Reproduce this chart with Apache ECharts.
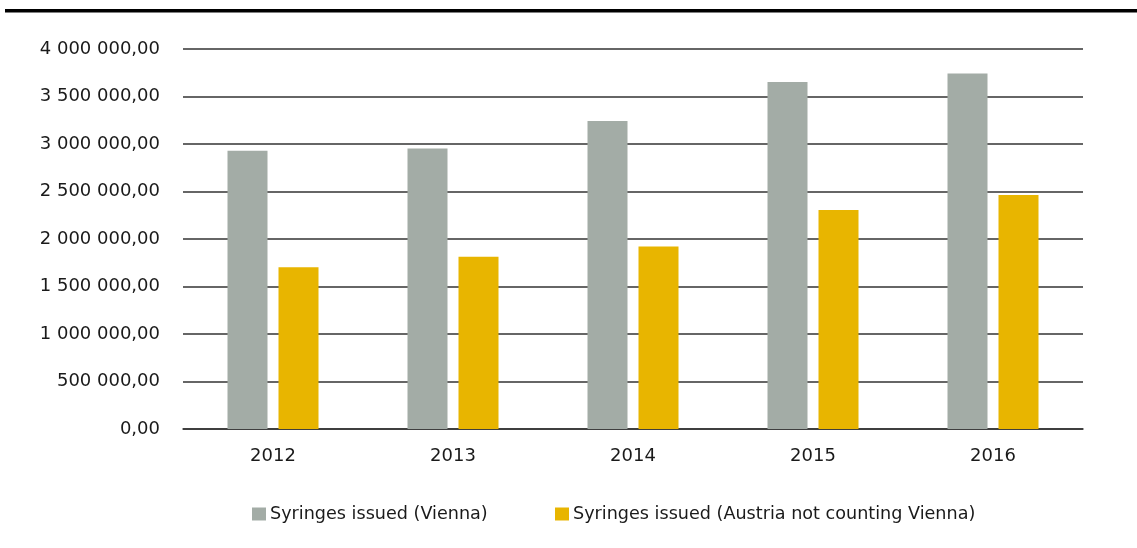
<!DOCTYPE html>
<html>
<head>
<meta charset="utf-8">
<script src="https://cdn.jsdelivr.net/npm/echarts@6/dist/echarts.min.js"></script>
<style>
  html, body { margin: 0; padding: 0; background: #ffffff; }
  #chart { width: 1137px; height: 548px; }
</style>
</head>
<body>
<div id="chart"></div>
<script>
// Syringes issued per year
const years = ['2012', '2013', '2014', '2015', '2016'];
const viennaName = 'Syringes issued (Vienna)';
const austriaName = 'Syringes issued (Austria not counting Vienna)';
const vienna = [2929000, 2953000, 3241000, 3652000, 3743000];
const austria = [1703000, 1812000, 1921000, 2304000, 2462000];

const textFont = 'DejaVu Sans';

// "3 500 000,00" style: space-grouped thousands, comma decimals
function fmt(v) {
  const s = Math.round(v).toString().replace(/\B(?=(\d{3})+(?!\d))/g, ' ');
  return s + ',00';
}

const chart = echarts.init(document.getElementById('chart'), null, { renderer: 'canvas' });

const gridLine = { color: '#333333', width: 1.5 };
const legendText = { fontFamily: textFont, fontSize: 17.6, color: '#1a1a1a', padding: [0, 0, 0, -1] };

chart.setOption({
  animation: false,
  backgroundColor: '#ffffff',
  graphic: [{
    type: 'rect',
    shape: { x: 5, y: 9, width: 1132, height: 3.5 },
    style: { fill: '#000000' },
    silent: true
  }],
  grid: { left: 183, right: 54, top: 49, bottom: 119 },
  legend: [{
    left: 247, top: 500,
    itemWidth: 14, itemHeight: 13,
    icon: 'rect',
    data: [viennaName],
    textStyle: legendText
  }, {
    left: 550, top: 500,
    itemWidth: 14, itemHeight: 13,
    icon: 'rect',
    data: [austriaName],
    textStyle: legendText
  }],
  xAxis: {
    type: 'category',
    data: years,
    axisLine: { show: true, lineStyle: gridLine },
    axisTick: { show: false },
    axisLabel: { margin: 18, fontFamily: textFont, fontSize: 18, color: '#1a1a1a' }
  },
  yAxis: {
    type: 'value',
    min: 0, max: 4000000, interval: 500000,
    axisLine: { show: false },
    axisTick: { show: false },
    splitLine: { show: true, lineStyle: gridLine },
    axisLabel: { margin: 23, fontFamily: textFont, fontSize: 18, color: '#1a1a1a', formatter: fmt }
  },
  series: [{
    name: viennaName,
    type: 'bar',
    data: vienna,
    barWidth: 40,
    barGap: '27.5%',
    itemStyle: { color: '#a3aca6' }
  }, {
    name: austriaName,
    type: 'bar',
    data: austria,
    barWidth: 40,
    itemStyle: { color: '#e8b500' }
  }]
});
</script>
</body>
</html>
